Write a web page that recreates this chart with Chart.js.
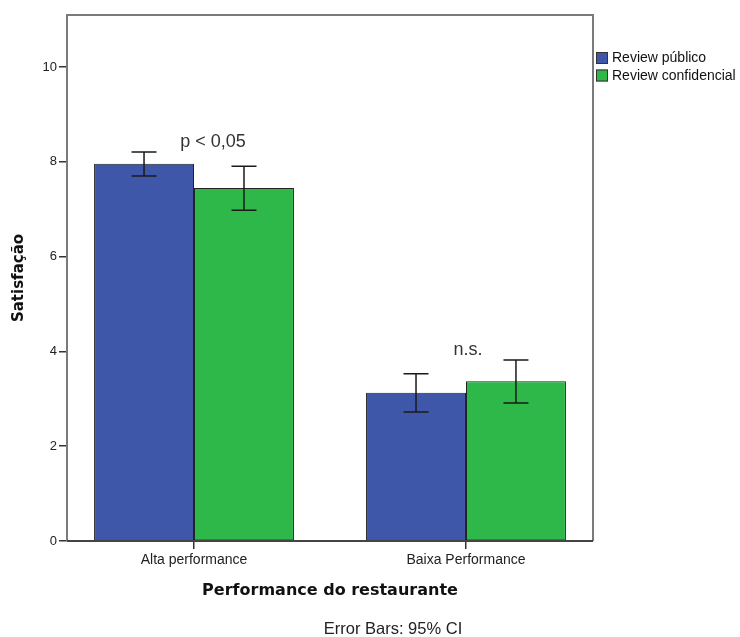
<!DOCTYPE html>
<html>
<head>
<meta charset="utf-8">
<script src="https://cdn.jsdelivr.net/npm/chart.js@4.4.1/dist/chart.umd.min.js"></script>
<style>
  body { margin: 0; background: #fff; }
  canvas { display: block; }
</style>
</head>
<body>
<canvas id="grafico" width="740" height="637"></canvas>
<script>
// dados
var categorias = ['Alta performance', 'Baixa Performance'];
var series = ['Review público', 'Review confidencial'];
var mediaPublico = [7.96, 3.13];
var mediaConfidencial = [7.45, 3.37];
var icInfPublico = [7.70, 2.72];
var icSupPublico = [8.21, 3.53];
var icInfConfidencial = [6.98, 2.91];
var icSupConfidencial = [7.91, 3.82];
var anotacoes = ['p < 0,05', 'n.s.'];
var yTicks = [0, 2, 4, 6, 8, 10];

var cores = ['#3f57a8', '#2eb84a'];
var icInf = [icInfPublico, icInfConfidencial];
var icSup = [icSupPublico, icSupConfidencial];

function pontos(valores) {
    return valores.map(function(v, i) { return { x: i, y: v }; });
}

// barras de erro (IC 95%)
var barrasErro = {
    id: 'barrasErro',
    afterDatasetsDraw: function(chart) {
        var ctx = chart.ctx;
        var y = chart.scales.y;
        ctx.save();
        ctx.strokeStyle = '#1a1a1a';
        ctx.lineWidth = 1.5;
        for (var d = 0; d < chart.data.datasets.length; d++) {
            var meta = chart.getDatasetMeta(d);
            meta.data.forEach(function(bar, i) {
                var x = bar.x;
                var yLo = y.getPixelForValue(icInf[d][i]);
                var yHi = y.getPixelForValue(icSup[d][i]);
                ctx.beginPath();
                ctx.moveTo(x, yLo); ctx.lineTo(x, yHi);
                ctx.moveTo(x - 12.5, yHi); ctx.lineTo(x + 12.5, yHi);
                ctx.moveTo(x - 12.5, yLo); ctx.lineTo(x + 12.5, yLo);
                ctx.stroke();
            });
        }
        ctx.restore();
    }
};

// moldura, anotacoes, legenda e rodape
var extras = {
    id: 'extras',
    afterDraw: function(chart) {
        var ctx = chart.ctx;
        var a = chart.chartArea;
        var xs = chart.scales.x, ys = chart.scales.y;
        ctx.save();
        ctx.strokeStyle = '#7a7a7a';
        ctx.lineWidth = 2;
        ctx.beginPath();
        ctx.moveTo(a.left, a.bottom);
        ctx.lineTo(a.left, a.top);
        ctx.lineTo(a.right, a.top);
        ctx.lineTo(a.right, a.bottom);
        ctx.stroke();
        ctx.strokeStyle = '#444';
        ctx.beginPath();
        ctx.moveTo(a.left, a.bottom);
        ctx.lineTo(a.right, a.bottom);
        ctx.stroke();

        // anotacoes acima de cada grupo
        ctx.fillStyle = '#333';
        ctx.font = '18px "Liberation Sans", Arial, sans-serif';
        ctx.textAlign = 'center';
        ctx.textBaseline = 'middle';
        var desloc = [19, 2];
        anotacoes.forEach(function(txt, i) {
            var topo = Math.max(icSupPublico[i], icSupConfidencial[i]);
            ctx.fillText(txt, xs.getPixelForValue(i) + desloc[i], ys.getPixelForValue(topo) - 10);
        });

        // legenda
        ctx.font = '14px "Liberation Sans", Arial, sans-serif';
        ctx.textAlign = 'left';
        series.forEach(function(nome, i) {
            var ly = 52 + i * 17.5;
            ctx.fillStyle = cores[i];
            ctx.fillRect(596, ly, 12, 12);
            ctx.strokeStyle = '#333';
            ctx.lineWidth = 1;
            ctx.strokeRect(596.5, ly + 0.5, 11, 11);
            ctx.fillStyle = '#111';
            ctx.fillText(nome, 612, ly + 6.5);
        });

        ctx.font = '16.5px "Liberation Sans", Arial, sans-serif';
        ctx.textAlign = 'center';
        ctx.fillStyle = '#222';
        ctx.fillText('Error Bars: 95% CI', 393, 629);
        ctx.restore();
    }
};

var grafico = new Chart(document.getElementById('grafico').getContext('2d'), {
    type: 'bar',
    data: {
        datasets: [{
            label: series[0],
            data: pontos(mediaPublico),
            backgroundColor: cores[0],
            borderColor: '#222',
            borderWidth: 1,
            borderSkipped: false
        }, {
            label: series[1],
            data: pontos(mediaConfidencial),
            backgroundColor: cores[1],
            borderColor: '#222',
            borderWidth: 1,
            borderSkipped: false
        }]
    },
    options: {
        responsive: false,
        animation: false,
        events: [],
        layout: { padding: { top: 15, right: 147, left: 0, bottom: 0 } },
        datasets: { bar: { categoryPercentage: 0.735, barPercentage: 1.0 } },
        plugins: { legend: { display: false }, tooltip: { enabled: false } },
        scales: {
            x: {
                type: 'linear',
                offset: false,
                min: -0.467,
                max: 1.467,
                afterBuildTicks: function(scale) {
                    scale.ticks = categorias.map(function(c, i) { return { value: i }; });
                },
                afterFit: function(scale) { scale.height = 96; },
                ticks: {
                    callback: function(v) { return categorias[v]; },
                    color: '#222',
                    font: { family: '"Liberation Sans", Arial, sans-serif', size: 14 },
                    padding: 3,
                    maxRotation: 0
                },
                grid: { offset: false, drawOnChartArea: false, drawTicks: true, tickLength: 8, color: '#333', lineWidth: 1.5 },
                border: { display: false },
                title: {
                    display: true,
                    text: 'Performance do restaurante',
                    color: '#111',
                    font: { family: '"DejaVu Sans", sans-serif', size: 16, weight: 'bold' },
                    padding: { top: 0, bottom: 37 }
                }
            },
            y: {
                min: 0,
                max: 11.1,
                afterBuildTicks: function(scale) {
                    scale.ticks = yTicks.map(function(v) { return { value: v }; });
                },
                afterFit: function(scale) { scale.width = 67; },
                ticks: {
                    color: '#222',
                    font: { family: '"Liberation Sans", Arial, sans-serif', size: 13 },
                    padding: 2
                },
                grid: { drawOnChartArea: false, drawTicks: true, tickLength: 8, color: '#333', lineWidth: 1.5 },
                border: { display: false },
                title: {
                    display: true,
                    text: 'Satisfação',
                    color: '#111',
                    font: { family: '"DejaVu Sans", sans-serif', size: 15, weight: 'bold' },
                    padding: { top: 10, bottom: 0 }
                }
            }
        }
    },
    plugins: [barrasErro, extras]
});
</script>
</body>
</html>
